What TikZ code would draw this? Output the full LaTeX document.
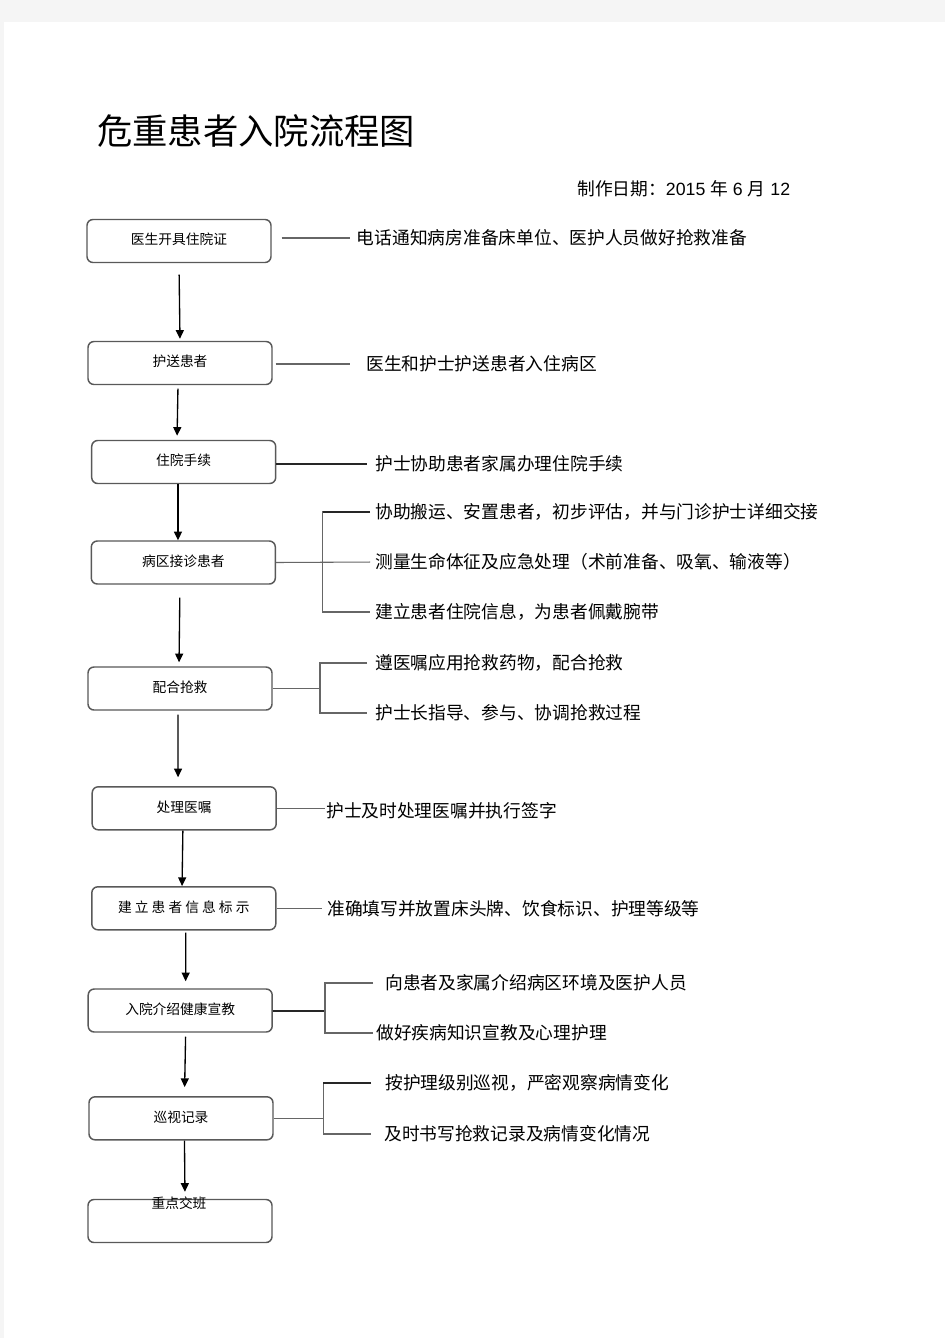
\documentclass[tikz,border=0pt]{standalone}
\usepackage{fontspec}
\setmainfont{Noto Sans CJK SC}
\newfontfamily\latin{Liberation Sans}
\usetikzlibrary{arrows.meta}

\tikzset{
  link/.style={draw=black!60,line width=0.8pt},
  linkb/.style={draw=black!85,line width=1.5pt},
  arr/.style={-{Triangle[width=6pt,length=6.5pt]},line width=1pt}
}

\begin{document}
\begin{tikzpicture}[x=0.75pt, y=-0.75pt]
            \tikzstyle{box}=[draw=black!65,line width=1.1pt,rounded corners=4.5pt,minimum width=138pt,minimum height=32.25pt,inner sep=0pt,text depth=0.3em,font=\fontsize{10.3}{12}\selectfont]
            \tikzstyle{note}=[anchor=west,inner sep=0pt,font=\fontsize{13.3}{16}\selectfont]
            % page
            \fill[black!4] (0,0) rectangle (945,1338);
            \fill[white] (4,22) rectangle (945,1338);

            \node[anchor=west,inner sep=0pt,font=\fontsize{26.5}{30}\selectfont] (title) at (97,131) {危重患者入院流程图};
            \node[note] (date) at (577,189) {制作日期：{\latin 2015 }年{\latin\ 6 }月{\latin\ 12}};

            % main steps
            \node[box] (B_1) at (179,241)  {医生开具住院证};
            \node[box] (B_2) at (180,363)  {护送患者};
            \node[box] (B_3) at (183.7,462)  {住院手续};
            \node[box] (B_4) at (183.3,562.5)  {病区接诊患者};
            \node[box] (B_5) at (180,688.5)  {配合抢救};
            \node[box] (B_6) at (184.2,808.3)  {处理医嘱};
            \node[box] (B_7) at (183.8,908.3)  {建 立 患 者 信 息 标 示};
            \node[box] (B_8) at (180.2,1010.5)  {入院介绍健康宣教};
            \node[box] (B_9) at (181,1118.3)  {巡视记录};
            \node[box] (B_10) at (180,1221)  {};
            \node[inner sep=0pt,font=\fontsize{10.3}{12}\selectfont] (L_10) at (179,1203) {重点交班};

            \draw[arr,shorten <=8.6pt,shorten >=1.5pt] (B_1.south) -- (B_2.north);
            \draw[arr,shorten <=2.6pt,shorten >=3pt] ([xshift=-1.5pt]B_2.south) -- ([xshift=-5pt]B_3.north);
            \draw[arr] ([xshift=-4.3pt]B_3.south) -- ([xshift=-4pt]B_4.north);
            \draw[arr,shorten <=9.75pt,shorten >=3pt] ([xshift=-2.5pt]B_4.south) -- ([xshift=-0.75pt]B_5.north);
            \draw[arr,shorten <=3pt,shorten >=6.6pt] ([xshift=-1.5pt]B_5.south) -- ([xshift=-4.6pt]B_6.north);
            \draw[arr] ([xshift=-1pt]B_6.south) -- ([xshift=-1.3pt]B_7.north);
            \draw[arr,shorten <=1.5pt,shorten >=5.25pt] ([xshift=1.4pt]B_7.south) -- ([xshift=4.1pt]B_8.north);
            \draw[arr,shorten <=3pt,shorten >=6.75pt] ([xshift=4.1pt]B_8.south) -- ([xshift=2.6pt]B_9.north);
            \draw[arr,shorten >=5.25pt] ([xshift=2.6pt]B_9.south) -- ([xshift=3.75pt]B_10.north);

            % notes
            \node[note] (T_1) at (356.7,238) {电话通知病房准备床单位、医护人员做好抢救准备};
            \node[note] (T_2) at (366,364) {医生和护士护送患者入住病区};
            \node[note] (T_3) at (375,464) {护士协助患者家属办理住院手续};
            \node[note] (T_4a) at (375,512) {协助搬运、安置患者，初步评估，并与门诊护士详细交接};
            \node[note] (T_4b) at (375,562) {测量生命体征及应急处理（术前准备、吸氧、输液等）};
            \node[note] (T_4c) at (375,612) {建立患者住院信息，为患者佩戴腕带};
            \node[note] (T_5a) at (375,663) {遵医嘱应用抢救药物，配合抢救};
            \node[note] (T_5b) at (375,713) {护士长指导、参与、协调抢救过程};
            \node[note] (T_6) at (326,811) {护士及时处理医嘱并执行签字};
            \node[note] (T_7) at (327,909) {准确填写并放置床头牌、饮食标识、护理等级等};
            \node[note] (T_8a) at (385,983) {向患者及家属介绍病区环境及医护人员};
            \node[note] (T_8b) at (376,1033) {做好疾病知识宣教及心理护理};
            \node[note] (T_9a) at (385,1083) {按护理级别巡视，严密观察病情变化};
            \node[note] (T_9b) at (384,1134) {及时书写抢救记录及病情变化情况};

            \coordinate (K_4) at (322.7,562.7);
            \coordinate (K_5) at (320,690.3);
            \coordinate (K_8) at (325,1011);
            \coordinate (K_9) at (323.3,1118.3);

            \draw[link,shorten <=7.5pt,shorten >=5pt] (T_1.west -| B_1.east) -- (T_1.west);
            \draw[link,shorten <=2.25pt,shorten >=12pt] (T_2.west -| B_2.east) -- (T_2.west);
            \draw[linkb,shorten >=6.2pt] (T_3.west -| B_3.east) -- (T_3.west);
            \draw[link,shorten >=3.75pt] (B_4.east) -- (T_4b.west);
            \draw[link,shorten <=3.75pt,shorten >=3.75pt] (T_4a.west) -| (K_4) |- (T_4c.west);
            \draw[linkb,shorten >=3.75pt] (T_4a.west -| K_4) -- (T_4a.west);
            \draw[link] (B_5.east) -- (B_5.east -| K_5);
            \draw[link,shorten <=6pt,shorten >=6pt] (T_5a.west) -| (K_5) |- (T_5b.west);
            \draw[link,shorten >=0.5pt] (B_6.east) -- (B_6.east -| T_6.west);
            \draw[link,shorten >=3.75pt] (B_7.east) -- (B_7.east -| T_7.west);
            \draw[linkb] (B_8.east) -- (B_8.east -| K_8);
            \draw[link,shorten <=9pt,shorten >=2.5pt] (T_8a.west) -| (K_8) |- (T_8b.west);
            \draw[link] (B_9.east) -- (B_9.east -| K_9);
            \draw[link,shorten <=10.5pt,shorten >=9.75pt] (T_9a.west) -| (K_9) |- (T_9b.west);
            \draw[linkb,shorten >=10.5pt] (T_9a.west -| K_9) -- (T_9a.west);
        \end{tikzpicture}
\end{document}
